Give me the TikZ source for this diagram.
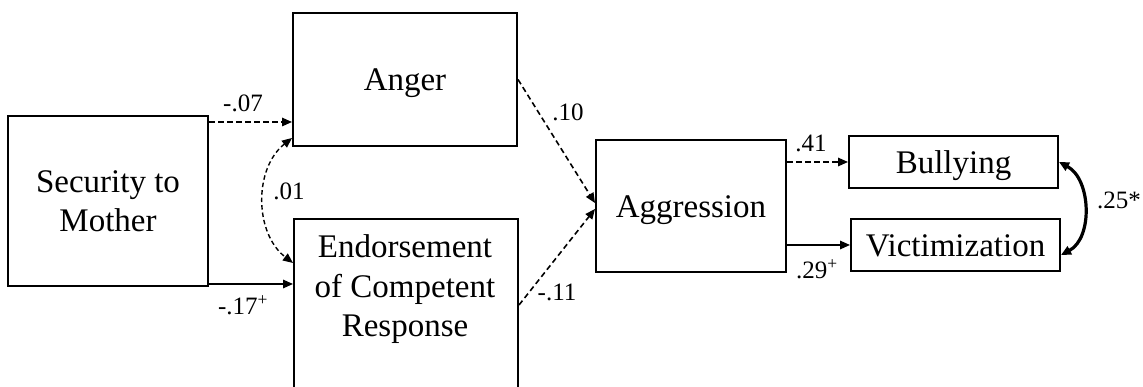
\documentclass[tikz,border=0pt]{standalone}
\usepackage{fontspec}
\setmainfont{Liberation Serif}
\usetikzlibrary{arrows.meta}
\tikzset{
  box/.style={draw=black, line width=2pt, inner sep=0pt,
    font=\fontsize{33}{39.5}\selectfont},
  onebox/.style={box, text height=29pt, text depth=6pt},
  ntext/.style={inner sep=0pt, align=center, font=\fontsize{33}{39.5}\selectfont},
  lab/.style={inner sep=0pt, anchor=base, font=\fontsize{25}{28}\selectfont},
  conn/.style={line width=1.6pt, -{Triangle[length=10pt,width=8.5pt]}},
  dconn/.style={conn, dash pattern=on 5.5pt off 3.5pt},
  dcov/.style={line width=1.4pt, dash pattern=on 4.5pt off 3pt,
    {Triangle[length=10pt,width=8.5pt]}-{Triangle[length=10pt,width=8.5pt]}},
  thcov/.style={line width=3.2pt,
    {Triangle[length=10pt,width=9pt]}-{Triangle[length=10pt,width=9pt]}},
}
\begin{document}
\begin{tikzpicture}[x=1pt,y=1pt]
\useasboundingbox (0,0) rectangle (1143,387);
% boxes
\node[box, align=center, minimum width=200pt, minimum height=170pt] (sec) at (108,186) {Security to\\Mother};
\node[onebox, minimum width=224pt, minimum height=133pt] (anger) at (405,307.5) {Anger};
\node[box, minimum width=224pt, minimum height=200pt, anchor=north west] (endo) at (293,169) {};
\node[ntext, anchor=north] (endotext) at (405,152.5) {Endorsement\\of Competent\\Response};
\node[onebox, minimum width=190pt, minimum height=132pt] (agg) at (691,181) {Aggression};
\node[onebox, minimum width=209pt, minimum height=52pt] (bull) at (953.5,225) {Bullying};
\node[onebox, minimum width=209pt, minimum height=52pt] (vic) at (955.5,142) {Victimization};
% connectors
\draw[dconn] ([yshift=-7pt]sec.north east) -- ([yshift=-7pt]sec.north east -| anger.west);
\draw[conn] ([yshift=3pt]sec.south east) -- ([yshift=3pt]sec.south east -| endo.west);
\draw[dcov] ([yshift=9pt]anger.south west) to[bend right=52] ([yshift=-45pt]endo.north west);
\draw[dconn] (anger.east) -- ([yshift=3pt]agg.west);
\draw[dconn] ([yshift=14pt]endo.east) -- ([yshift=-3pt]agg.west);
\draw[dconn] (agg.east |- bull.west) -- (bull.west);
\draw[conn] (agg.east |- vic.west) -- (vic.west);
\draw[thcov] (bull.east) to[out=-28, in=28] ([yshift=-10pt]vic.east);
% labels
\node[lab] (l07) at (243,275.3) {-.07};
\node[lab] (l01) at (289,187) {.01};
\node[lab] (l17) at (243,72) {-.17\textsuperscript{+}};
\node[lab] (l10) at (568,266.3) {.10};
\node[lab] (l11) at (557,86.7) {-.11};
\node[lab] (l41) at (811,235.3) {.41};
\node[lab] (l29) at (817,108.7) {.29\textsuperscript{+}};
\node[lab] (l25) at (1119,178.7) {.25*};
\end{tikzpicture}
\end{document}
